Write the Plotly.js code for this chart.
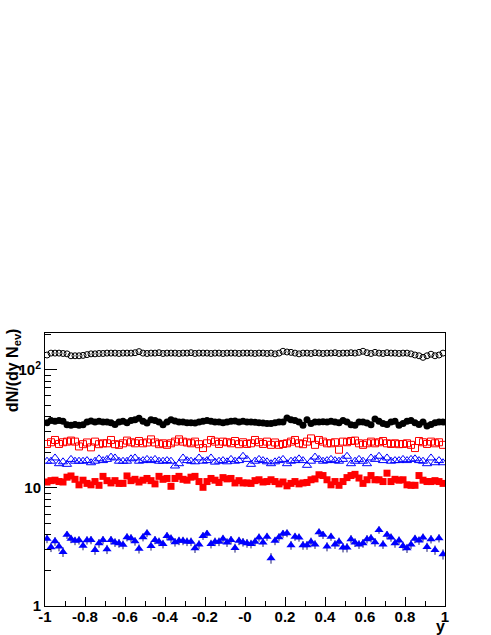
<!DOCTYPE html>
<html>
<head>
<meta charset="utf-8">
<script src="https://cdn.plot.ly/plotly-3.0.1.min.js"></script>
<style>html,body{margin:0;padding:0;background:#fff;}#chart{width:491px;height:635px;}</style>
</head>
<body>
<div id="chart"></div>
<script>
// bin centres of rapidity y (100 bins from -1 to 1)
const yBins = [-0.99,-0.97,-0.95,-0.93,-0.91,-0.89,-0.87,-0.85,-0.83,-0.81,
  -0.79,-0.77,-0.75,-0.73,-0.71,-0.69,-0.67,-0.65,-0.63,-0.61,
  -0.59,-0.57,-0.55,-0.53,-0.51,-0.49,-0.47,-0.45,-0.43,-0.41,
  -0.39,-0.37,-0.35,-0.33,-0.31,-0.29,-0.27,-0.25,-0.23,-0.21,
  -0.19,-0.17,-0.15,-0.13,-0.11,-0.09,-0.07,-0.05,-0.03,-0.01,
  0.01,0.03,0.05,0.07,0.09,0.11,0.13,0.15,0.17,0.19,
  0.21,0.23,0.25,0.27,0.29,0.31,0.33,0.35,0.37,0.39,
  0.41,0.43,0.45,0.47,0.49,0.51,0.53,0.55,0.57,0.59,
  0.61,0.63,0.65,0.67,0.69,0.71,0.73,0.75,0.77,0.79,
  0.81,0.83,0.85,0.87,0.89,0.91,0.93,0.95,0.97,0.99];

// open black circles
const openCircles = [133,138,138,138,137,136,131,131,131,132,
  134,136,136,137,137,138,138,138,137,138,
  138,138,139,142,138,137,138,138,139,137,
  138,138,138,137,138,138,139,137,138,138,
  138,137,138,138,137,138,138,138,137,138,
  138,138,137,138,138,137,138,136,138,143,
  141,140,138,136,138,138,137,139,138,137,
  138,138,139,137,138,138,139,138,140,143,
  139,137,140,138,137,139,138,138,137,138,
  138,136,133,131,127,131,135,131,133,138];

// full black circles
const fullCircles = [35.5,37.2,36.5,37.2,36.5,34.2,33.8,34.4,33.8,34.2,
  36.0,36.7,36.0,36.5,36.0,36.0,35.5,34.4,36.0,36.5,
  35.5,37.2,37.7,38.8,36.5,35.3,37.7,37.2,36.0,34.2,
  36.0,37.7,36.7,36.0,36.0,35.5,35.5,35.3,36.0,36.5,
  37.2,36.5,36.0,36.0,35.5,36.0,36.5,36.7,36.0,36.5,
  36.0,36.0,35.8,35.5,35.3,35.0,35.0,35.5,36.0,36.0,
  39.0,37.7,37.2,36.0,33.8,37.7,35.0,36.0,36.0,36.2,
  36.0,36.5,36.0,35.5,37.2,36.0,34.2,33.8,36.0,36.0,
  35.3,34.2,38.3,36.5,35.0,34.4,36.0,36.5,33.8,35.0,
  36.5,37.2,35.5,34.4,36.0,33.3,34.4,35.5,36.0,36.0];

// open red squares
const openSquares = [23.5,24.3,25.4,23.5,24.3,24.6,25.1,24.6,22.4,23.4,
  24.2,22.0,24.6,23.4,23.8,23.8,25.4,23.4,23.1,23.8,
  25.1,24.3,23.8,24.9,23.8,24.2,25.7,24.2,23.4,23.8,
  23.1,23.8,24.6,25.7,24.6,24.2,23.8,24.6,23.4,21.7,
  23.8,25.4,24.6,23.5,24.6,24.3,23.8,24.9,23.4,24.3,
  23.5,23.8,25.4,24.3,23.5,24.6,23.1,24.2,23.1,23.5,
  23.8,24.6,25.4,23.8,23.4,24.6,26.2,23.1,25.4,24.6,
  23.8,23.8,24.3,21.0,24.6,24.3,24.9,25.1,23.8,23.1,
  23.8,24.6,23.8,24.3,24.9,23.8,23.5,23.8,23.4,23.5,
  23.8,23.1,21.7,24.9,24.3,23.5,24.6,23.8,24.3,23.1];

// open blue triangles
const openTriangles = [16.8,16.8,17.9,16.0,16.6,15.8,17.4,16.8,16.8,16.8,
  17.0,16.3,16.8,17.6,17.0,17.4,18.2,17.9,16.8,16.8,
  16.8,17.6,17.9,16.8,17.0,17.4,17.0,17.4,16.8,16.8,
  17.0,16.8,15.3,16.0,17.9,17.0,16.8,16.6,17.9,16.8,
  17.0,17.9,16.5,16.8,17.0,16.6,17.4,16.8,17.0,18.5,
  17.4,15.8,16.8,17.4,17.0,16.6,16.0,16.6,17.0,17.4,
  16.0,16.8,17.0,17.6,17.0,15.5,16.8,18.2,17.4,16.8,
  17.0,17.4,17.0,16.8,17.4,18.5,16.0,16.8,17.4,16.8,
  16.0,17.9,17.4,18.5,17.0,17.9,16.8,17.0,17.0,17.4,
  17.0,17.4,17.6,17.0,16.8,16.0,17.9,16.3,17.0,16.3];

// full red squares
const fullSquares = [11.2,11.5,11.6,11.3,11.2,12.3,12.6,11.8,10.6,11.6,
  10.9,10.6,11.3,10.5,12.5,11.5,11.0,11.5,10.9,10.9,
  12.6,11.5,11.8,11.2,11.6,12.0,11.5,10.8,12.5,11.8,
  12.0,10.3,12.0,12.5,11.8,11.6,12.3,12.5,11.3,10.1,
  11.3,12.0,11.6,11.1,12.2,11.9,12.0,11.0,11.5,11.0,
  11.0,10.9,11.5,11.7,11.2,11.3,11.7,11.3,10.8,11.2,
  10.4,10.9,11.3,10.8,11.0,11.1,11.7,11.9,12.9,12.7,
  11.7,10.6,11.3,10.5,11.3,12.2,12.7,13.0,12.1,10.9,
  11.7,12.7,11.7,11.7,11.3,13.3,11.3,11.8,11.6,11.7,
  10.6,10.5,10.5,12.7,11.6,11.3,11.3,11.5,11.3,10.9];

// full blue triangles
const fullTriangles = [3.70,3.14,3.53,3.18,2.87,4.00,3.70,3.56,3.60,3.24,
  3.60,3.62,2.98,3.40,3.62,3.02,3.62,3.45,3.40,3.30,
  3.82,3.75,3.53,3.05,3.82,4.13,3.22,3.62,3.50,3.35,
  3.92,3.72,3.47,3.56,3.56,3.50,3.50,3.08,3.32,3.92,
  4.08,3.35,3.50,3.50,3.70,3.45,3.62,3.10,3.56,3.47,
  3.40,3.35,3.50,3.80,3.45,3.86,2.54,3.56,3.82,4.08,
  4.13,3.27,3.86,3.80,3.27,3.27,3.50,3.32,4.20,4.00,
  3.18,3.86,3.32,3.50,3.12,3.12,3.68,3.45,3.32,3.40,
  3.68,3.75,3.47,4.40,3.32,4.00,3.80,3.40,3.58,3.22,
  3.08,3.32,3.70,3.58,3.80,3.15,3.68,2.98,3.75,2.74];
const fullTrianglesErr = [0.30,0.28,0.30,0.28,0.27,0.31,0.30,0.29,0.29,0.28,
  0.29,0.29,0.27,0.29,0.29,0.27,0.29,0.29,0.29,0.28,
  0.30,0.30,0.29,0.27,0.30,0.31,0.28,0.29,0.29,0.28,
  0.30,0.30,0.29,0.29,0.29,0.29,0.29,0.27,0.28,0.30,
  0.31,0.28,0.29,0.29,0.30,0.29,0.29,0.27,0.29,0.29,
  0.29,0.28,0.29,0.30,0.29,0.30,0.26,0.29,0.30,0.31,
  0.31,0.28,0.30,0.30,0.28,0.28,0.29,0.28,0.32,0.31,
  0.28,0.30,0.28,0.29,0.28,0.28,0.30,0.29,0.28,0.29,
  0.30,0.30,0.29,0.32,0.28,0.31,0.30,0.29,0.29,0.28,
  0.27,0.28,0.30,0.29,0.30,0.28,0.30,0.27,0.30,0.27];

const xTickVals = [-1,-0.8,-0.6,-0.4,-0.2,0,0.2,0.4,0.6,0.8,1];
const xTickText = ['-1','-0.8','-0.6','-0.4','-0.2','-0','0.2','0.4','0.6','0.8','1'];
const yTickVals = [1,10,100];
const yTickText = ['1','10','10<sup>2</sup>'];
const yMinorVals = [2,3,4,5,6,7,8,9,20,30,40,50,60,70,80,90,200];

const FONT = 'Liberation Sans, Arial, Helvetica, sans-serif';

const traces = [
  {x: yBins, y: openCircles, type: 'scatter', mode: 'markers',
   marker: {symbol: 'circle-open', size: 6, color: 'black', line: {width: 1, color: 'black'}}},
  {x: yBins, y: fullCircles, type: 'scatter', mode: 'markers',
   marker: {symbol: 'circle', size: 7, color: 'black'}},
  {x: yBins, y: openSquares, type: 'scatter', mode: 'markers',
   marker: {symbol: 'square-open', size: 7, color: 'red', line: {width: 1, color: 'red'}}},
  {x: yBins, y: openTriangles, type: 'scatter', mode: 'markers',
   marker: {symbol: 'triangle-up-open', size: 8, color: 'blue', line: {width: 1, color: 'blue'}}},
  {x: yBins, y: fullSquares, type: 'scatter', mode: 'markers',
   marker: {symbol: 'square', size: 7, color: 'red'}},
  {x: yBins, y: fullTriangles, type: 'scatter', mode: 'markers',
   error_y: {type: 'data', array: fullTrianglesErr, visible: true, thickness: 1, width: 0, color: '#1a1a70'},
   marker: {symbol: 'triangle-up', size: 8, color: 'blue'}}
];

const layout = {
  width: 491, height: 635,
  margin: {l: 45, r: 46, t: 333, b: 29, pad: 0},
  paper_bgcolor: 'white', plot_bgcolor: 'white',
  showlegend: false,
  font: {family: FONT, color: 'black'},
  xaxis: {
    range: [-1, 1], tickmode: 'array', tickvals: xTickVals, ticktext: xTickText,
    ticks: 'inside', ticklen: 9, tickwidth: 1, tickcolor: 'black',
    ticklabelstandoff: -3,
    minor: {ticks: 'inside', ticklen: 5, tickwidth: 1, tickcolor: 'black', tickmode: 'linear', tick0: -1, dtick: 0.1},
    showline: true, linecolor: 'black', linewidth: 1, mirror: true,
    showgrid: false, zeroline: false,
    tickfont: {family: FONT, size: 15, weight: 'bold', color: 'black'}
  },
  yaxis: {
    type: 'log', range: [0, 2.31], tickmode: 'array', tickvals: yTickVals, ticktext: yTickText,
    ticks: 'inside', ticklen: 12, tickwidth: 1, tickcolor: 'black',
    minor: {ticks: 'inside', ticklen: 6, tickwidth: 1, tickcolor: 'black', tickmode: 'array', tickvals: yMinorVals},
    showline: true, linecolor: 'black', linewidth: 1, mirror: true,
    showgrid: false, zeroline: false,
    tickfont: {family: FONT, size: 15, weight: 'bold', color: 'black'}
  },
  annotations: [
    {text: 'dN/(dy N<sub>ev</sub>)', xref: 'paper', yref: 'paper', x: -0.08, y: 0.864,
     xanchor: 'center', yanchor: 'middle', textangle: -90, showarrow: false,
     font: {family: FONT, size: 16, weight: 'bold', color: 'black'}},
    {text: 'y', xref: 'paper', yref: 'paper', x: 0.988, y: -0.074,
     xanchor: 'center', yanchor: 'middle', showarrow: false,
     font: {family: FONT, size: 16, weight: 'bold', color: 'black'}}
  ]
};

Plotly.newPlot('chart', traces, layout, {displayModeBar: false, staticPlot: true});
</script>
</body>
</html>
